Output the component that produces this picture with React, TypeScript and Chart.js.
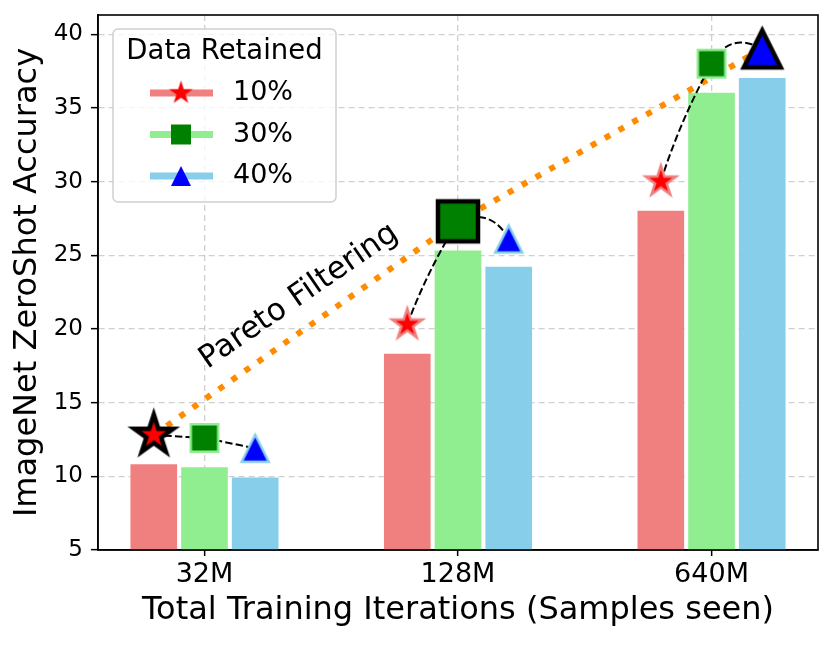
import React, { useEffect, useRef } from "react";
import { Chart, registerables } from "chart.js";

Chart.register(...registerables);

const categories = ["32M", "128M", "640M"];
const retained = ["10%", "30%", "40%"];
const barOffsets = [-0.2, 0, 0.2];

// bar heights per retained fraction
const bars10 = [10.8, 18.3, 28.0];
const bars30 = [10.6, 25.3, 36.0];
const bars40 = [9.9, 24.2, 37.0];

// marker values per retained fraction
const marks10 = [12.8, 20.3, 30.0];
const marks30 = [12.6, 27.3, 38.0];
const marks40 = [11.9, 26.1, 39.0];

// best series index at each category (Pareto front)
const paretoSeries = [0, 1, 2];

const yTicks = [5, 10, 15, 20, 25, 30, 35, 40];
const xTicks = [0, 1, 2];

const barSeries = [bars10, bars30, bars40];
const markSeries = [marks10, marks30, marks40];
const barColors = ["#f08080", "#90ee90", "#87ceeb"];
const fillColors = ["#ff0000", "#008000", "#0000ff"];
const shapes = ["star", "square", "triangle"];

// curvature of the dashed links (star->square, square->triangle)
const linkRad = [
  [0, -0.05, -0.05],
  [0, -0.45, -0.5],
];

const FONT = "'DejaVu Sans', sans-serif";

function tracePath(ctx: CanvasRenderingContext2D, shape: string, r: number) {
  ctx.beginPath();
  if (shape === "star") {
    const inner = r * 0.381966;
    for (let k = 0; k < 10; k++) {
      const rr = k % 2 === 0 ? r : inner;
      const a = -Math.PI / 2 + (k * Math.PI) / 5;
      const px = rr * Math.cos(a);
      const py = rr * Math.sin(a);
      if (k === 0) ctx.moveTo(px, py);
      else ctx.lineTo(px, py);
    }
  } else if (shape === "square") {
    ctx.rect(-r, -r, 2 * r, 2 * r);
  } else {
    ctx.moveTo(0, -r);
    ctx.lineTo(r, r);
    ctx.lineTo(-r, r);
  }
  ctx.closePath();
}

function makeMarker(shape: string, r: number, fill: string, stroke: string, lw: number) {
  const pad = lw * 4 + 2;
  const size = Math.ceil(2 * (r + pad));
  const c = document.createElement("canvas");
  c.width = size;
  c.height = size;
  const ctx = c.getContext("2d")!;
  ctx.translate(size / 2, size / 2);
  tracePath(ctx, shape, r);
  ctx.fillStyle = fill;
  ctx.fill();
  if (lw > 0) {
    ctx.lineWidth = lw;
    ctx.strokeStyle = stroke;
    ctx.lineJoin = "miter";
    ctx.stroke();
  }
  return c;
}

const App = () => {
  const chartRef = useRef<HTMLCanvasElement>(null);

  useEffect(() => {
    document.body.style.margin = "0";
    if (!chartRef.current) return;
    const ctx: any = chartRef.current.getContext("2d");

    const smallR = [16, 13.75, 13.5];
    const bigR = [20.5, 20, 18.5];
    const legendR = [12.5, 10, 10];
    const smallImgs = shapes.map((s, i) => makeMarker(s, smallR[i], fillColors[i], barColors[i], 2.5));
    const bigImgs = shapes.map((s, i) => makeMarker(s, bigR[i], fillColors[i], "#000", 4.5));
    const legendImgs = shapes.map((s, i) => makeMarker(s, legendR[i], fillColors[i], fillColors[i], 0));

    const barSets = barSeries.map((vals, s) => ({
      type: "bar",
      label: retained[s],
      data: vals.map((v, i) => ({ x: i + barOffsets[s], y: v })),
      backgroundColor: barColors[s],
      borderWidth: 0,
      barThickness: 46,
      grouped: false,
      order: 3,
    }));

    const paretoSet = {
      type: "line",
      role: "pareto",
      label: "pareto",
      data: paretoSeries.map((s, i) => ({ x: i + barOffsets[s], y: markSeries[s][i] })),
      borderColor: "#ff8c00",
      borderWidth: 6,
      borderDash: [6, 9.9],
      borderCapStyle: "butt",
      pointRadius: 0,
      tension: 0,
      fill: false,
      order: 2,
    };

    const markerSets = markSeries.map((vals, s) => ({
      type: "line",
      label: retained[s] + " marker",
      data: vals.map((v, i) => ({ x: i + barOffsets[s], y: v })),
      showLine: false,
      pointRadius: 12,
      pointStyle: (c: any) => (paretoSeries[c.dataIndex] === s ? bigImgs[s] : smallImgs[s]),
      order: 1,
    }));

    const decor = {
      id: "decor",
      afterDatasetDraw(chart: any, args: any) {
        const ds: any = chart.data.datasets[args.index];
        if (ds.role !== "pareto") return;
        const xs = chart.scales.x;
        const ys = chart.scales.y;
        const c = chart.ctx;
        c.save();
        c.strokeStyle = "#000";
        c.lineWidth = 2;
        c.setLineDash([7.4, 3.2]);
        categories.forEach((_, i) => {
          const pts = markSeries.map((m, s) => [
            xs.getPixelForValue(i + barOffsets[s]),
            ys.getPixelForValue(m[i]),
          ]);
          for (let k = 0; k < 2; k++) {
            const [x1, y1] = pts[k];
            const [x2, y2] = pts[k + 1];
            const rad = linkRad[k][i];
            const cx = (x1 + x2) / 2 - rad * (y2 - y1);
            const cy = (y1 + y2) / 2 + rad * (x2 - x1);
            c.beginPath();
            c.moveTo(x1, y1);
            c.quadraticCurveTo(cx, cy, x2, y2);
            c.stroke();
          }
        });
        c.restore();
      },
      afterDatasetsDraw(chart: any) {
        const c = chart.ctx;
        const a = chart.chartArea;
        const xs = chart.scales.x;
        const ys = chart.scales.y;

        // frame
        c.save();
        c.strokeStyle = "#000";
        c.lineWidth = 1.6;
        c.strokeRect(a.left, a.top, a.right - a.left, a.bottom - a.top);
        c.restore();

        // annotation
        c.save();
        c.translate(xs.getPixelForValue(0.373), ys.getPixelForValue(22.2));
        c.rotate((-34.5 * Math.PI) / 180);
        c.font = `31px ${FONT}`;
        c.fillStyle = "#000";
        c.textAlign = "center";
        c.textBaseline = "middle";
        c.fillText("Pareto Filtering", 0, 0);
        c.restore();

        // legend
        const bx = a.left + 15;
        const by = a.top + 14;
        const bw = 223;
        const bh = 173;
        c.save();
        c.beginPath();
        c.roundRect(bx, by, bw, bh, 5);
        c.fillStyle = "rgba(255,255,255,0.8)";
        c.fill();
        c.strokeStyle = "#d0d0d0";
        c.lineWidth = 1.5;
        c.stroke();
        c.fillStyle = "#000";
        c.textBaseline = "middle";
        c.textAlign = "center";
        c.font = `27.5px ${FONT}`;
        c.fillText("Data Retained", bx + bw / 2, by + 23);
        c.textAlign = "left";
        c.font = `27px ${FONT}`;
        retained.forEach((lab, s) => {
          const ry = by + 64 + s * 41.5;
          c.strokeStyle = barColors[s];
          c.lineWidth = 7;
          c.beginPath();
          c.moveTo(bx + 37, ry);
          c.lineTo(bx + 100, ry);
          c.stroke();
          const img = legendImgs[s];
          c.drawImage(img, bx + 68 - img.width / 2, ry - img.height / 2);
          c.fillText(lab, bx + 120, ry);
        });
        c.restore();
      },
    };

    const chart = new Chart(ctx, {
      type: "bar",
      data: { datasets: [...barSets, paretoSet, ...markerSets] as any },
      options: {
        responsive: false,
        animation: false,
        events: [],
        layout: { padding: { top: 15, right: 12.5, left: 0, bottom: 0 } },
        plugins: {
          legend: { display: false },
          tooltip: { enabled: false },
        },
        scales: {
          x: {
            type: "linear",
            min: -0.42,
            max: 2.42,
            offset: false,
            afterBuildTicks: (scale: any) => {
              scale.ticks = xTicks.map((v) => ({ value: v }));
            },
            afterFit: (scale: any) => {
              scale.height = 95;
            },
            ticks: {
              callback: (v: any) => categories[Number(v)] ?? "",
              font: { family: FONT, size: 27 },
              color: "#000",
              padding: 3,
              maxRotation: 0,
            },
            grid: {
              offset: false,
              color: "rgba(176,176,176,0.6)",
              lineWidth: 1.3,
              tickLength: 6,
              tickColor: "#000",
              tickWidth: 1.5,
            },
            border: { display: true, color: "#000", width: 1.6, dash: [6, 4] },
            title: {
              display: true,
              text: "Total Training Iterations (Samples seen)",
              font: { family: FONT, size: 32 },
              color: "#000",
              padding: { top: 0, bottom: 15 },
            },
          },
          y: {
            type: "linear",
            min: 5,
            max: 41.3,
            afterBuildTicks: (scale: any) => {
              scale.ticks = yTicks.map((v) => ({ value: v }));
            },
            afterFit: (scale: any) => {
              scale.width = 98;
              scale.paddingTop = 0;
              scale.paddingBottom = 0;
            },
            ticks: {
              font: { family: FONT, size: 23 },
              color: "#000",
              padding: 8,
            },
            grid: {
              color: "rgba(176,176,176,0.6)",
              lineWidth: 1.3,
              tickLength: 7,
              tickColor: "#000",
              tickWidth: 1.5,
            },
            border: { display: true, color: "#000", width: 1.6, dash: [6, 4] },
            title: {
              display: true,
              text: "ImageNet ZeroShot Accuracy",
              font: { family: FONT, size: 32 },
              color: "#000",
              padding: { top: 8, bottom: 0 },
            },
          },
        },
      } as any,
      plugins: [decor],
    });

    return () => {
      chart.destroy();
    };
  }, []);

  return (
    <div style={{ width: 831, height: 645 }}>
      <canvas ref={chartRef} width={831} height={645} style={{ display: "block" }} />
    </div>
  );
};

export default App;
